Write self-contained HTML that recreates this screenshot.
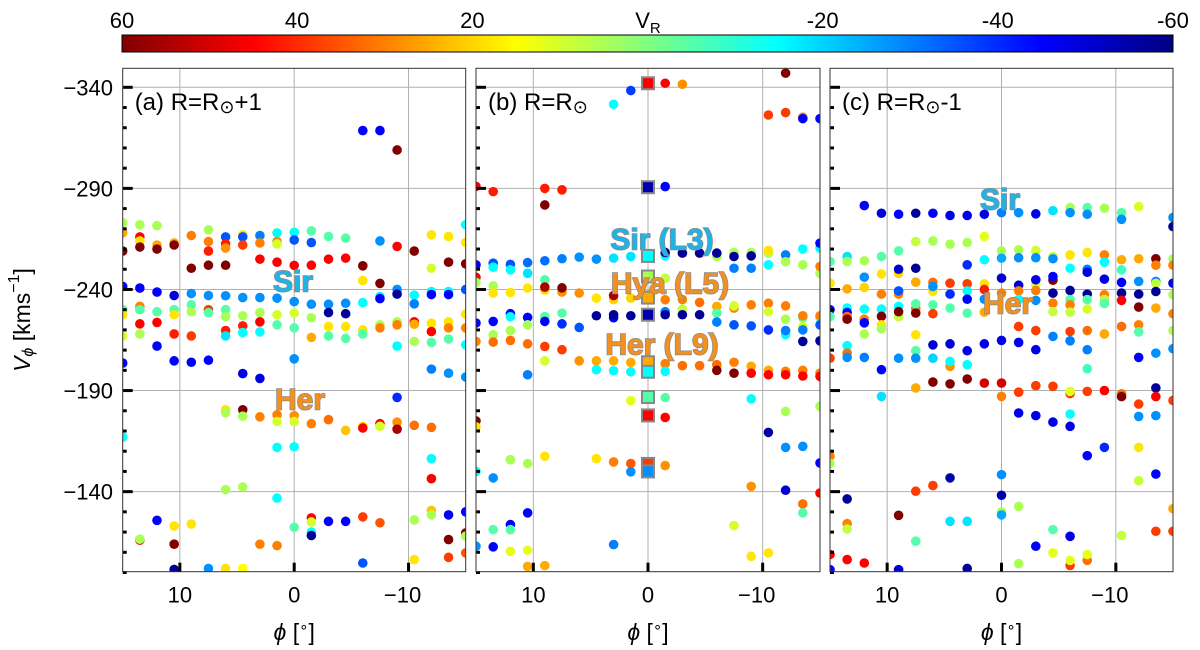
<!DOCTYPE html>
<html><head><meta charset="utf-8"><style>
body{margin:0;background:#fff;}
svg{display:block;font-family:"Liberation Sans","DejaVu Sans",sans-serif;}
</style></head><body>
<svg id="c" width="1200" height="650" viewBox="0 0 1200 650" xmlns="http://www.w3.org/2000/svg">
<defs>
<linearGradient id="jet" x1="0" x2="1" y1="0" y2="0">
<stop offset="0" stop-color="#800000"/><stop offset="0.125" stop-color="#ff0000"/><stop offset="0.375" stop-color="#ffff00"/><stop offset="0.5" stop-color="#80ff80"/><stop offset="0.625" stop-color="#00ffff"/><stop offset="0.875" stop-color="#0000ff"/><stop offset="1" stop-color="#000080"/>
</linearGradient>
</defs>
<rect x="122" y="35" width="1051" height="17" fill="url(#jet)" stroke="#000" stroke-width="1"/>
<g id="cbt"></g>
<text x="22" y="320" transform="rotate(-90 22 320)" text-anchor="middle" font-size="23" dominant-baseline="central"><tspan font-style="italic">V</tspan><tspan font-size="16" dy="6" font-style="italic">ϕ</tspan><tspan dy="-6"> [kms</tspan><tspan font-size="16" dy="-8">−1</tspan><tspan dy="8">]</tspan></text>
<g id="panels"></g>
</svg>
<script>
const cbTicks=[60,40,20,-20,-40,-60];
const phiTicks=[10,0,-10];
const vTicks=[-340,-290,-240,-190,-140];
const pointsA=[
[15,-273,5],[15,-268,25],[15,-259,60],[15,-241.5,-45],[15,-230,-5],[15,-227.5,18],[15,-217,10],[15,-203.6,-45],[15,-167,-15],
[13.5,-272,5],[13.5,-266,45],[13.5,-264,18],[13.5,-261,60],[13.5,-240.7,-45],[13.5,-231.6,30],[13.5,-230,-5],[13.5,-223,45],[13.5,-218,5],[13.5,-116,45],[13.5,-116.5,5],
[12,-271.6,5],[12,-262,25],[12,-260,60],[12,-238.7,-45],[12,-229,-5],[12,-223.7,45],[12,-212,-45],[12,-125.8,-45],
[10.5,-263,25],[10.5,-262,60],[10.5,-237,-50],[10.5,-230,-5],[10.5,-227.5,18],[10.5,-218,42],[10.5,-204.7,-45],[10.5,-123,18],[10.5,-114,60],[10.5,-101.5,-57],
[9,-266.7,30],[9,-250.5,60],[9,-238,-28],[9,-232.4,-5],[9,-229,5],[9,-217,38],[9,-204,-45],[9,-124,18],
[7.5,-269.5,5],[7.5,-263.7,30],[7.5,-259,42],[7.5,-252,60],[7.5,-237,-28],[7.5,-230,38],[7.5,-228.5,-5],[7.5,-205,-45],[7.5,-102,-28],
[6,-266,-35],[6,-262.6,42],[6,-260.5,28],[6,-252,60],[6,-236.9,-28],[6,-230,-5],[6,-226.6,5],[6,-219.7,42],[6,-217,-18],[6,-180.5,18],[6,-179,5],[6,-141,5],[6,-102,18],
[4.5,-267,18],[4.5,-266,-35],[4.5,-262,38],[4.5,-236,-28],[4.5,-227,5],[4.5,-222,42],[4.5,-218.7,-15],[4.5,-198.4,-48],[4.5,-180.5,60],[4.5,-177.3,5],[4.5,-142.3,5],[4.5,-102,15],
[3,-266.7,-30],[3,-263,30],[3,-255,45],[3,-236,-28],[3,-228.6,5],[3,-224,45],[3,-219,-15],[3,-196,-48],[3,-177,30],[3,-114,30],
[1.5,-268,-15],[1.5,-263.7,30],[1.5,-262.5,10],[1.5,-253.5,45],[1.5,-235.7,-28],[1.5,-227.5,10],[1.5,-222.5,-5],[1.5,-178,30],[1.5,-174.7,10],[1.5,-161.9,-15],[1.5,-136.8,-15],[1.5,-113.3,30],
[0,-268.3,-15],[0,-264.5,-35],[0,-251.9,45],[0,-234,-28],[0,-228.3,10],[0,-221,-5],[0,-205.7,-28],[0,-177.6,28],[0,-174.7,10],[0,-162.2,-15],[0,-122.4,-5],
[-1.5,-269,-5],[-1.5,-263.2,-35],[-1.5,-252,45],[-1.5,-232.7,-28],[-1.5,-226,5],[-1.5,-216.3,25],[-1.5,-173.6,30],[-1.5,-127,45],[-1.5,-125,10],[-1.5,-120,-15],[-1.5,-118.3,-57],
[-3,-266.2,-5],[-3,-255,45],[-3,-232.7,-28],[-3,-228.6,-57],[-3,-221.7,18],[-3,-217,-5],[-3,-175.6,32],[-3,-125.3,-45],
[-4.5,-265.4,-5],[-4.5,-255.5,45],[-4.5,-233.2,-28],[-4.5,-228,-57],[-4.5,-221.7,18],[-4.5,-215.8,-5],[-4.5,-170.3,22],[-4.5,-125.3,-45],
[-6,-318.6,-45],[-6,-251.7,60],[-6,-244.4,18],[-6,-233.5,-15],[-6,-220,18],[-6,-218,-5],[-6,-172.3,18],[-6,-171.5,45],[-6,-127.5,38],[-6,-104.7,-35],
[-7.5,-318.6,-45],[-7.5,-264,-28],[-7.5,-243,60],[-7.5,-236.5,-15],[-7.5,-235.5,-45],[-7.5,-222.5,5],[-7.5,-221,30],[-7.5,-173.6,45],[-7.5,-172.3,10],[-7.5,-124.6,35],
[-9,-309,60],[-9,-261.3,45],[-9,-240,-28],[-9,-237.7,-57],[-9,-224,5],[-9,-222.5,30],[-9,-212,-15],[-9,-186.6,-40],[-9,-174.4,28],[-9,-170.9,55],
[-10.5,-259,60],[-10.5,-237.2,-15],[-10.5,-232.9,-30],[-10.5,-224,45],[-10.5,-222.8,25],[-10.5,-214.3,5],[-10.5,-172.8,32],[-10.5,-126,5],[-10.5,-106.4,18],
[-12,-267,18],[-12,-250.5,10],[-12,-239,-15],[-12,-237.5,-45],[-12,-223.3,18],[-12,-219.2,45],[-12,-213.8,-5],[-12,-200.6,-30],[-12,-171.8,32],[-12,-156.3,-15],[-12,-146.4,45],[-12,-130.7,22],[-12,-128.5,5],
[-13.5,-266.2,18],[-13.5,-253.5,60],[-13.5,-239,-15],[-13.5,-237.5,-45],[-13.5,-224,18],[-13.5,-221,30],[-13.5,-215.5,-5],[-13.5,-198.6,-28],[-13.5,-128.5,-45],[-13.5,-116.3,60],[-13.5,-107.5,38],
[-15,-272,-15],[-15,-263.2,18],[-15,-252.7,60],[-15,-240,-35],[-15,-227.8,18],[-15,-221,30],[-15,-212.6,-15],[-15,-196.7,-28],[-15,-130,-45],[-15,-119.6,60],[-15,-118,5],[-15,-109.7,35]
];
const pointsB=[
[15,-291,45],[15,-252.2,-45],[15,-246,45],[15,-243.5,5],[15,-223.4,-45],[15,-214.3,30],[15,-175,60],[15,-172,18],[15,-150,-15],[15,-113,-28],
[13.5,-288.4,42],[13.5,-253,-35],[13.5,-251,-15],[13.5,-241.8,5],[13.5,-238.2,18],[13.5,-224.2,-45],[13.5,-217.6,5],[13.5,-214,32],[13.5,-146.8,-28],[13.5,-121.2,-5],[13.5,-112.7,-45],
[12,-252.4,-35],[12,-249.7,-15],[12,-238.5,18],[12,-228,-45],[12,-226.5,-15],[12,-219.7,5],[12,-214.8,32],[12,-155.8,5],[12,-123.7,-45],[12,-121.2,-5],[12,-110.5,12],
[10.5,-253.3,-32],[10.5,-248,-18],[10.5,-240.7,18],[10.5,-226.2,-45],[10.5,-222.5,5],[10.5,-213.1,32],[10.5,-197.8,-30],[10.5,-153.9,5],[10.5,-129.5,-45],[10.5,-111,12],[10.5,-103,25],
[9,-290,42],[9,-281.8,60],[9,-254.2,-32],[9,-244.8,-5],[9,-239.8,20],[9,-241.2,55],[9,-226.6,-5],[9,-224.2,-45],[9,-211.8,38],[9,-204.7,10],[9,-157.5,18],[9,-103.4,25],
[7.5,-289.3,42],[7.5,-255.2,-30],[7.5,-238.7,28],[7.5,-240.8,60],[7.5,-228.3,-5],[7.5,-223,-40],[7.5,-210.2,38],
[6,-256,-28],[6,-238.2,28],[6,-221.2,-35],[6,-204.7,28],
[4.5,-255,-28],[4.5,-235.7,18],[4.5,-227,-57],[4.5,-204.7,25],[4.5,-200.3,-15],[4.5,-156.3,18],
[3,-331.6,-15],[3,-255.5,-18],[3,-235,20],[3,-237,55],[3,-226,-45],[3,-227.5,-57],[3,-204.7,25],[3,-199.8,-15],[3,-154.7,30],[3,-113.8,-30],
[1.5,-338.4,-38],[1.5,-256.3,-18],[1.5,-235.7,20],[1.5,-227,-57],[1.5,-203.9,25],[1.5,-199.3,-15],[1.5,-185,12],[1.5,-153.9,35],[1.5,-149.8,-28],
[-1.5,-342,45],[-1.5,-290.9,-45],[-1.5,-256.6,-15],[-1.5,-258.3,-57],[-1.5,-245.6,8],[-1.5,-234.9,30],[-1.5,-229,-30],[-1.5,-227.5,-57],[-1.5,-203.3,30],[-1.5,-199.5,-15],[-1.5,-186.5,-5],[-1.5,-176.7,45],[-1.5,-152.9,28],
[-3,-341.5,28],[-3,-258,-57],[-3,-235,30],[-3,-230.3,8],[-3,-227.5,-57],[-3,-202.3,32],
[-4.5,-258,-57],[-4.5,-233.6,32],[-4.5,-227.5,-57],[-4.5,-202.3,32],
[-6,-256.3,5],[-6,-258,-57],[-6,-231.6,25],[-6,-228.3,-5],[-6,-223.9,-30],[-6,-202.8,32],[-6,-200,60],
[-7.5,-258.3,5],[-7.5,-256.3,-57],[-7.5,-250.5,-30],[-7.5,-230.8,30],[-7.5,-231.9,10],[-7.5,-222.5,-35],[-7.5,-204,30],[-7.5,-198.6,60],[-7.5,-123.2,10],
[-9,-258.3,5],[-9,-256.6,-57],[-9,-250.5,-30],[-9,-232.4,30],[-9,-222,-35],[-9,-202,25],[-9,-198.6,45],[-9,-185.9,-15],[-9,-142.6,28],[-9,-108,18],
[-10.5,-326.3,38],[-10.5,-258,5],[-10.5,-259.3,18],[-10.5,-252.2,-15],[-10.5,-233.2,30],[-10.5,-229,10],[-10.5,-220,-40],[-10.5,-200,25],[-10.5,-197.8,45],[-10.5,-169.3,-57],[-10.5,-109.7,18],
[-12,-347,60],[-12,-327.5,38],[-12,-257.1,-30],[-12,-253.7,5],[-12,-231.9,30],[-12,-225.3,5],[-12,-217.6,-15],[-12,-219.7,-30],[-12,-199.5,30],[-12,-197.8,45],[-12,-179.7,5],[-12,-161.9,-28],[-12,-140.7,-50],
[-13.5,-325.2,30],[-13.5,-324.5,-45],[-13.5,-260,-15],[-13.5,-252.2,5],[-13.5,-226,-5],[-13.5,-227,30],[-13.5,-221.7,10],[-13.5,-220,-30],[-13.5,-214.3,-57],[-13.5,-200,30],[-13.5,-197.2,45],[-13.5,-162.4,-28],[-13.5,-133.9,32],[-13.5,-129.5,-5],
[-15,-324.5,-45],[-15,-260.5,-15],[-15,-262.9,-45],[-15,-248,5],[-15,-251.4,30],[-15,-226,-5],[-15,-227,30],[-15,-222.5,-35],[-15,-214.6,-57],[-15,-198.6,30],[-15,-197,45],[-15,-182.2,5],[-15,-154.2,-45],[-15,-139.3,45]
];
const squaresB=[
[0,-342,45],[0,-290.6,-55],[0,-256.6,-15],[0,-246.4,5],[0,-236,25],[0,-227.5,-55],[0,-204,25],[0,-199.3,-15],[0,-186.8,-5],[0,-177.7,45],[0,-153.7,38],[0,-150,-28]
];
const pointsC=[
[15,-253.8,-5],[15,-243.1,18],[15,-230,-45],[15,-226.6,-5],[15,-206,38],[15,-157.5,30],[15,-154,5],[15,-108.9,45],[15,-101.4,-45],
[13.5,-256.3,-18],[13.5,-253.8,5],[13.5,-240.3,25],[13.5,-230.8,-15],[13.5,-228.6,-45],[13.5,-226.6,32],[13.5,-225.3,60],[13.5,-212.2,-15],[13.5,-208.5,32],[13.5,-206.4,-28],[13.5,-136.4,-57],[13.5,-124.2,30],[13.5,-121.5,8],[13.5,-106.4,45],
[12,-281.5,-45],[12,-254.2,5],[12,-246.1,-28],[12,-241,20],[12,-230.3,-15],[12,-225.3,30],[12,-223.5,-45],[12,-218,5],[12,-206.4,-30],[12,-104.7,45],
[10.5,-277.7,-50],[10.5,-256.3,-5],[10.5,-247.7,18],[10.5,-237.7,30],[10.5,-230.3,-15],[10.5,-226.7,60],[10.5,-222.5,18],[10.5,-220.5,5],[10.5,-200.3,-45],[10.5,-187.1,-18],
[9,-277.2,-45],[9,-259.1,-5],[9,-248,20],[9,-250,-50],[9,-237.7,30],[9,-239.3,-35],[9,-231.6,-15],[9,-226.5,8],[9,-229,60],[9,-206,-28],[9,-128.3,60],[9,-101.4,-50],
[7.5,-277.7,-57],[7.5,-263.7,8],[7.5,-250.5,-57],[7.5,-243.6,25],[7.5,-230.5,32],[7.5,-232.9,-5],[7.5,-228.3,60],[7.5,-217.6,18],[7.5,-209.7,-5],[7.5,-206,-28],[7.5,-191.3,25],[7.5,-140.2,38],[7.5,-115.5,-5],
[6,-277.7,-45],[6,-264,5],[6,-243.5,32],[6,-239,18],[6,-241.5,-28],[6,-232.4,-5],[6,-228,38],[6,-212.6,-50],[6,-206,-20],[6,-194.2,60],[6,-143,38],
[4.5,-276.6,-48],[4.5,-262.4,5],[4.5,-243.1,38],[4.5,-237.7,-40],[4.5,-230.8,-5],[4.5,-213.1,-50],[4.5,-202,28],[4.5,-204.4,-15],[4.5,-193.3,60],[4.5,-146.8,-55],[4.5,-125.3,-18],
[3,-276.6,-48],[3,-263.2,5],[3,-252.2,-40],[3,-242.8,38],[3,-239.3,-15],[3,-235.2,-45],[3,-228.3,-5],[3,-209.7,-48],[3,-202.8,-15],[3,-195.7,60],[3,-125.3,-18],[3,-102,-57],
[1.5,-277.2,-48],[1.5,-266.2,12],[1.5,-254.7,-15],[1.5,-242.8,18],[1.5,-240,42],[1.5,-235.2,-28],[1.5,-228.8,25],[1.5,-213.1,-48],[1.5,-193.7,50],
[0,-278,-30],[0,-259.1,5],[0,-255.5,-25],[0,-245.6,-50],[0,-238.2,30],[0,-214.8,-48],[0,-193.7,50],[0,-187.1,30],[0,-148.4,-28],[0,-138.2,-55],[0,-130,5],[0,-128.5,-25],
[-1.5,-278,-28],[-1.5,-259.6,5],[-1.5,-255.7,-28],[-1.5,-242.1,-50],[-1.5,-239.3,30],[-1.5,-235,-15],[-1.5,-221.7,38],[-1.5,-213.8,-48],[-1.5,-189.2,38],[-1.5,-178.9,-48],[-1.5,-132.7,5],[-1.5,-104.4,5],
[-3,-277.4,-48],[-3,-259.3,10],[-3,-255.7,-28],[-3,-242.3,10],[-3,-244.8,-48],[-3,-239.5,30],[-3,-234.6,-28],[-3,-219.7,38],[-3,-210.2,-48],[-3,-192.4,38],[-3,-177.6,-48],[-3,-113,-45],
[-4.5,-279,-18],[-4.5,-256.3,10],[-4.5,-255.2,-28],[-4.5,-244.6,60],[-4.5,-246.4,-45],[-4.5,-238.2,-57],[-4.5,-233.2,30],[-4.5,-229,8],[-4.5,-216.8,-30],[-4.5,-192.1,38],[-4.5,-174.4,-48],[-4.5,-121.2,-5],[-4.5,-109.7,12],
[-6,-280.5,5],[-6,-278,-28],[-6,-257.1,18],[-6,-250.5,-15],[-6,-239.5,-57],[-6,-235,-5],[-6,-232.4,30],[-6,-228.8,8],[-6,-219.2,38],[-6,-214.6,-30],[-6,-188.5,38],[-6,-189.6,12],[-6,-178.4,-15],[-6,-172.3,-48],[-6,-117.9,-48],[-6,-103.5,38],[-6,-106,12],
[-7.5,-280.5,-5],[-7.5,-277.2,-28],[-7.5,-258.3,18],[-7.5,-250,-30],[-7.5,-248.5,-48],[-7.5,-237.7,-57],[-7.5,-235,-5],[-7.5,-230.3,10],[-7.5,-219.7,32],[-7.5,-210.2,-30],[-7.5,-200.8,-8],[-7.5,-189.6,38],[-7.5,-157.8,-45],[-7.5,-106,32],[-7.5,-108.9,12],
[-9,-280.2,5],[-9,-257.1,30],[-9,-253.5,-15],[-9,-245.1,-48],[-9,-237.4,30],[-9,-235,5],[-9,-233,-5],[-9,-218,25],[-9,-190,45],[-9,-161.9,-40],
[-10.5,-278,-5],[-10.5,-274.7,-28],[-10.5,-254.7,25],[-10.5,-249.7,-8],[-10.5,-243.5,-45],[-10.5,-238.2,-57],[-10.5,-234.6,45],[-10.5,-221.7,32],[-10.5,-188.4,32],[-10.5,-187,60],[-10.5,-118.3,8],
[-12,-281,10],[-12,-255.2,25],[-12,-244,-28],[-12,-237.7,-57],[-12,-231.3,60],[-12,-222.5,30],[-12,-219,-5],[-12,-206.4,-45],[-12,-183.3,38],[-12,-177.2,-28],[-12,-161.9,18],[-12,-145.4,8],
[-13.5,-255.2,60],[-13.5,-252,30],[-13.5,-244,-28],[-13.5,-243,8],[-13.5,-239,-57],[-13.5,-230.8,25],[-13.5,-208.5,-28],[-13.5,-191.3,-57],[-13.5,-187,45],[-13.5,-177.6,-28],[-13.5,-148.7,-45],[-13.5,-120.4,38],
[-15,-275.6,-28],[-15,-271.1,-57],[-15,-255,5],[-15,-252,30],[-15,-243.1,-45],[-15,-237.4,5],[-15,-228,30],[-15,-219.7,5],[-15,-210.7,-28],[-15,-185.1,38],[-15,-131.6,25],[-15,-120.4,38]
];
const NS="http://www.w3.org/2000/svg";
function mk(tag,attrs,parent){const e=document.createElementNS(NS,tag);for(const k in attrs)e.setAttribute(k,attrs[k]);parent.appendChild(e);return e;}
function jet(vr){const t=(vr+60)/120;const cl=x=>Math.max(0,Math.min(1,x));
const r=cl(1.5-Math.abs(4*t-3)),g=cl(1.5-Math.abs(4*t-2)),b=cl(1.5-Math.abs(4*t-1));
return `rgb(${Math.round(r*255)},${Math.round(g*255)},${Math.round(b*255)})`;}
const cbg=document.getElementById('cbt');
cbTicks.forEach(v=>{const x=122+(60-v)/120*1051;
const t=mk('text',{x:x,y:28,'font-size':22,'text-anchor':'middle'},cbg);t.textContent=String(v);

});
const vrl=mk('text',{x:648,y:28,'font-size':22,'text-anchor':'middle'},cbg);


vrl.innerHTML='V<tspan font-size="15" dy="5">R</tspan>';
const TOP=68.3,BOT=571.7,VMIN=-349.4,VMAX=-100.4;
const yS=v=>TOP+(v-VMIN)/(VMAX-VMIN)*(BOT-TOP);
const panels=[
{name:'panel-a',L:122.7,R:465.7,pts:pointsA,label:'(a) R=R',suf:'+1',lab:[['Sir',293,282,'#1fb4e6'],['Her',300,400,'#f39020']]},
{name:'panel-b',L:476,R:820,pts:pointsB,label:'(b) R=R',suf:'',lab:[['Sir (L3)',662,240,'#1fb4e6'],['Hya (L5)',670,284,'#f39020'],['Her (L9)',662,345,'#f39020']]},
{name:'panel-c',L:830,R:1173,pts:pointsC,label:'(c) R=R',suf:'-1',lab:[['Sir',1000,200,'#1fb4e6'],['Her',1008,304,'#f39020']]}
];
const pg=document.getElementById('panels');
panels.forEach((p,pi)=>{
const g=mk('g',{},pg);


const xS=phi=>p.L+(15-phi)/30*(p.R-p.L);
const clipId='clip'+pi;
const cp=mk('clipPath',{id:clipId},g);mk('rect',{x:p.L,y:TOP,width:p.R-p.L,height:BOT-TOP},cp);
phiTicks.forEach(t=>{const l=mk('line',{x1:xS(t),x2:xS(t),y1:TOP,y2:BOT,stroke:'#b0b0b0','stroke-width':1},g);

});
vTicks.forEach(t=>{const l=mk('line',{x1:p.L,x2:p.R,y1:yS(t),y2:yS(t),stroke:'#b0b0b0','stroke-width':1},g);

});
const dg=mk('g',{'clip-path':`url(#${clipId})`},g);


p.pts.forEach(d=>{const c=mk('circle',{cx:xS(d[0]),cy:yS(d[1]),r:4.8,fill:jet(d[2])},dg);

});
if(pi===1){squaresB.forEach(d=>{const s=mk('rect',{x:xS(d[0])-6,y:yS(d[1])-6,width:12,height:12,fill:jet(d[2]),stroke:'#888','stroke-width':2},dg);

});}
p.lab.forEach(l=>{const t=mk('text',{x:l[1],y:l[2],'font-size':30,'font-weight':'bold','text-anchor':'middle','dominant-baseline':'central',fill:l[3],stroke:'#8a8a8a','stroke-width':1.5,'paint-order':'stroke'},g);
t.textContent=l[0];

});
const tl=mk('text',{x:p.L+12,y:110,'font-size':24},g);


tl.innerHTML=p.label+'<tspan font-size="18" dy="3">⊙</tspan><tspan dy="-3">'+p.suf+'</tspan>';
for(let v=-340;v<=-100;v+=10){const maj=vTicks.includes(v);
const tk=mk('line',{x1:p.L,x2:p.L+(maj?10:4),y1:yS(v),y2:yS(v),stroke:'#000','stroke-width':3},g);

}
phiTicks.forEach(t=>{const tk=mk('line',{x1:xS(t),x2:xS(t),y1:BOT,y2:BOT-9,stroke:'#000','stroke-width':3},g);


const lb=mk('text',{x:xS(t)+(t<0?-6:0),y:BOT+31,'font-size':22,'text-anchor':'middle'},g);
lb.textContent=t<0?'−'+(-t):String(t);

});
const fr=mk('rect',{x:p.L,y:TOP,width:p.R-p.L,height:BOT-TOP,fill:'none',stroke:'#333','stroke-width':1},g);


const xt=mk('text',{x:(p.L+p.R)/2,y:640,'font-size':23,'text-anchor':'middle'},g);


xt.innerHTML='<tspan font-style="italic">ϕ</tspan> [<tspan font-size="15" dy="-8">∘</tspan><tspan dy="8">]</tspan>';
if(pi===0){vTicks.forEach(v=>{const lb=mk('text',{x:113,y:yS(v)+8,'font-size':22,'text-anchor':'end'},g);
lb.textContent='−'+(-v);

});}
});
</script>
</body></html>
